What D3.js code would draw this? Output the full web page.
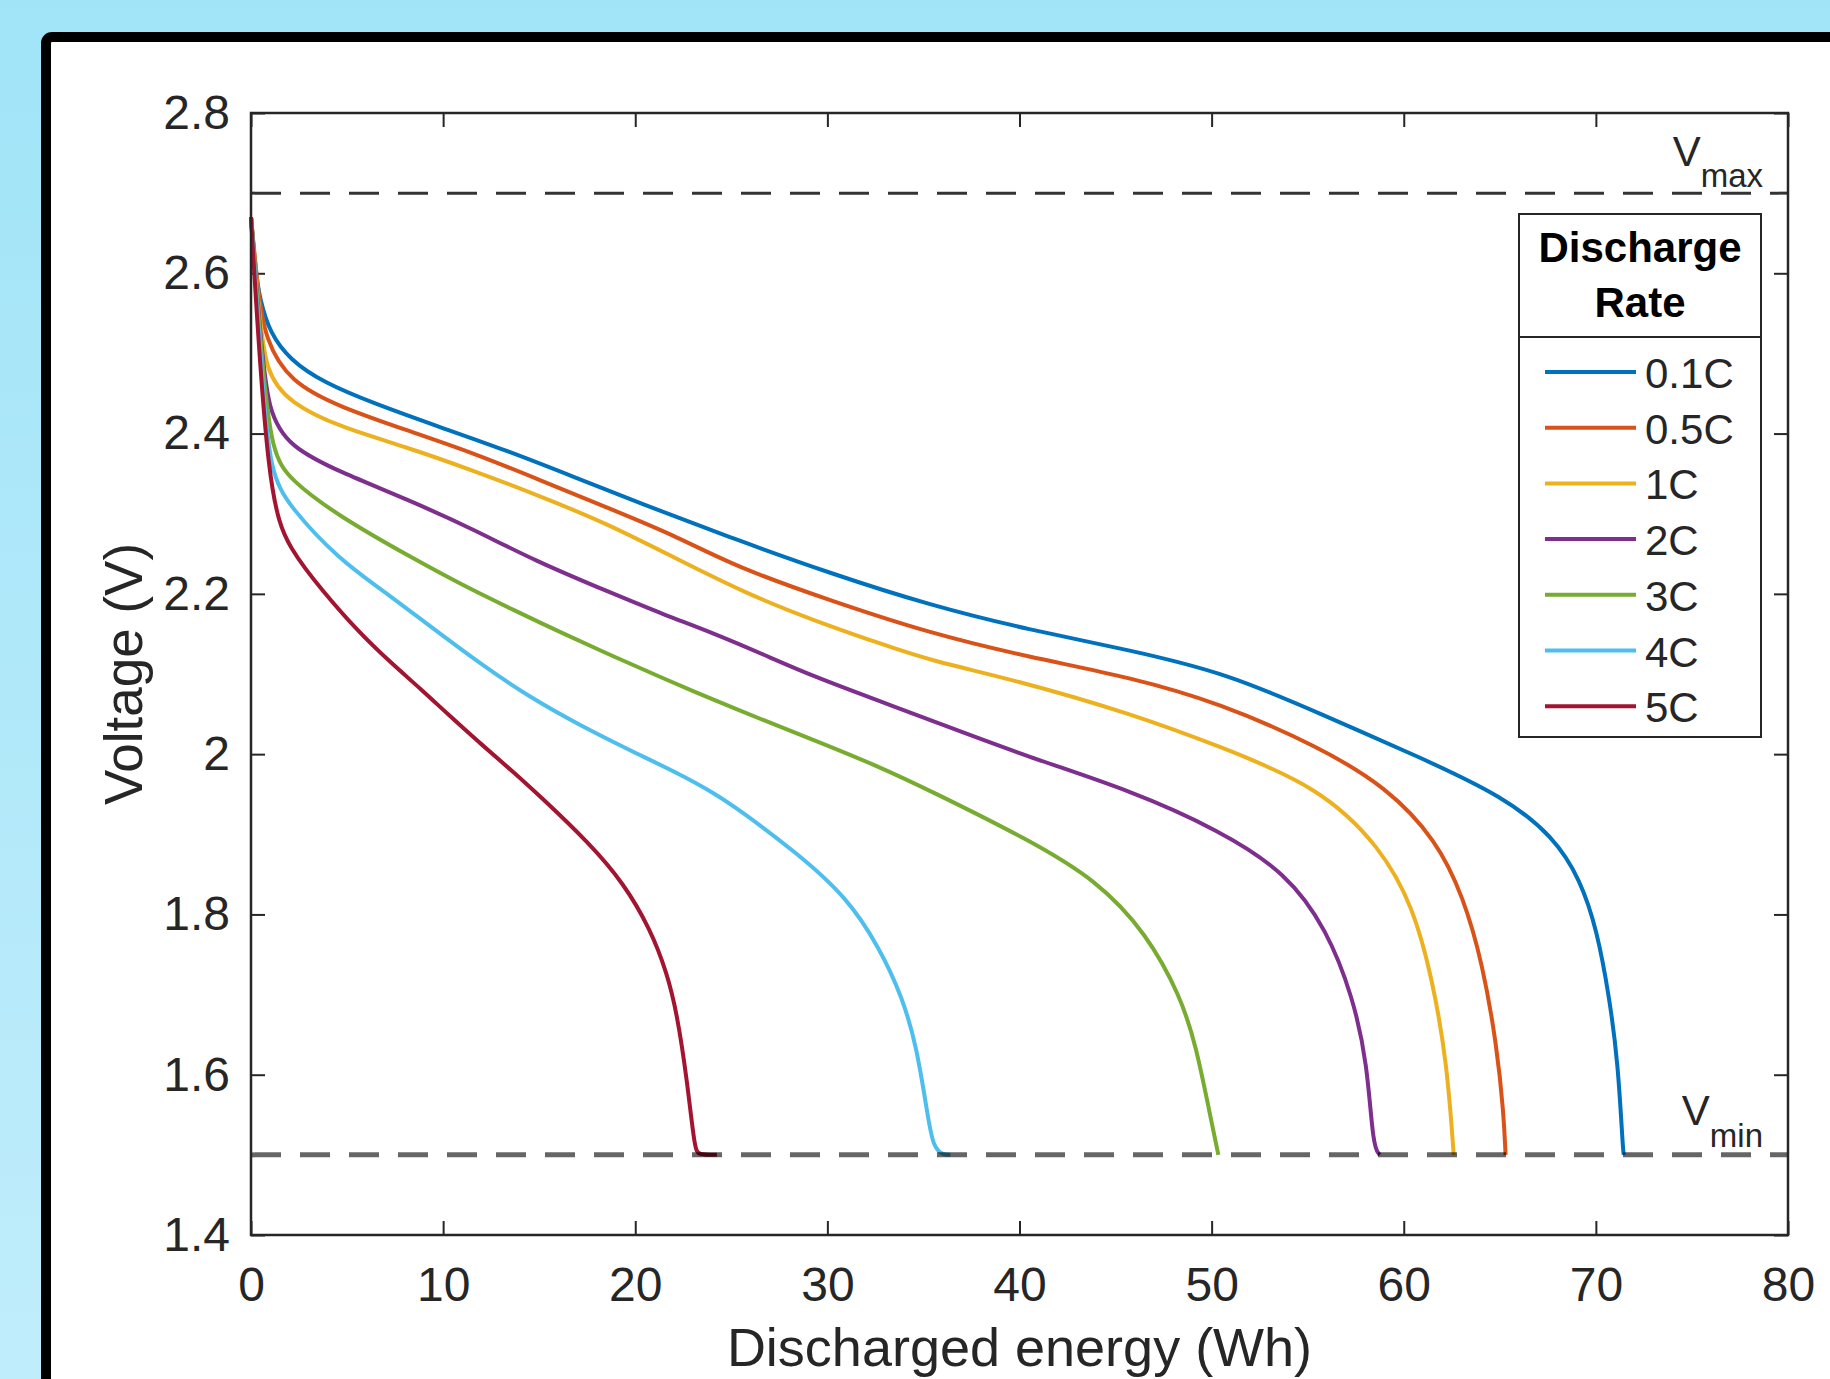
<!DOCTYPE html>
<html>
<head>
<meta charset="utf-8">
<script src="https://cdn.jsdelivr.net/npm/d3@7"></script>
<style>
  html, body { margin: 0; padding: 0; }
  body { width: 1830px; height: 1379px; overflow: hidden; }
  svg { display: block; font-family: "Liberation Sans", Arial, sans-serif; }
</style>
</head>
<body>
<svg id="chart" width="1830" height="1379"></svg>
<script>
const SVG = d3.select('#chart');
const WIDTH = 1830;
const HEIGHT = 1379;
const LEFT = 251;
const RIGHT = 1788;
const TOP = 113;
const BOTTOM = 1235;
const TICK = 14;
const TEXT_COLOR = '#262626';

// DATA  (discharged energy in Wh, voltage in V)
const rates = ['0.1C', '0.5C', '1C', '2C', '3C', '4C', '5C'];
const colors = ['#0072BD', '#D95319', '#EDB120', '#7E2F8E', '#77AC30', '#4DBEEE', '#A2142F'];

const curve01C = [[0, 2.67], [0.25, 2.6], [0.47, 2.567], [0.99, 2.525], [2.03, 2.492], [3.75, 2.464],
  [6.35, 2.438], [9.84, 2.408], [13.3, 2.379], [16.8, 2.346], [20.25, 2.313], [25.2, 2.268],
  [30.1, 2.226], [35.3, 2.186], [40.5, 2.155], [45.75, 2.13], [50.9, 2.1], [55.6, 2.051],
  [60.85, 1.996], [65.2, 1.947], [67.8, 1.897], [69.2, 1.843], [70.05, 1.781], [70.7, 1.697],
  [71.15, 1.615], [71.4, 1.51], [71.45, 1.5]];
const curve05C = [[0, 2.67], [0.35, 2.58], [0.73, 2.517], [2.03, 2.464], [4.63, 2.433], [8.12, 2.404],
  [11.55, 2.376], [15.04, 2.342], [18.5, 2.308], [21.97, 2.274], [25.2, 2.234], [30.1, 2.192],
  [35.3, 2.151], [40.5, 2.121], [45.75, 2.096], [50.4, 2.064], [55.6, 2.009], [59.1, 1.959],
  [61.7, 1.893], [63.1, 1.822], [64.1, 1.739], [64.85, 1.635], [65.2, 1.552], [65.3, 1.5]];
const curve1C = [[0, 2.67], [0.4, 2.56], [0.73, 2.476], [2.03, 2.438], [4.63, 2.408], [8.12, 2.383],
  [11.55, 2.354], [15.04, 2.322], [18.5, 2.288], [21.97, 2.246], [25.8, 2.2], [29.27, 2.167],
  [32.74, 2.138], [35.3, 2.117], [39.7, 2.093], [45.75, 2.051], [50.4, 2.01], [55.6, 1.959],
  [58.8, 1.884], [60.5, 1.809], [61.5, 1.718], [62.25, 1.615], [62.6, 1.5]];
const curve2C = [[0, 2.67], [0.5, 2.52], [0.88, 2.426], [2.03, 2.383], [4.63, 2.352], [8.12, 2.318],
  [11.55, 2.281], [14.7, 2.242], [18.86, 2.2], [21.5, 2.174], [24.06, 2.151], [26.7, 2.124],
  [29.27, 2.097], [32.74, 2.066], [35.3, 2.043], [40.5, 1.996], [45.75, 1.955], [50.4, 1.905],
  [53.9, 1.852], [56.0, 1.781], [57.35, 1.697], [58.1, 1.615], [58.4, 1.51], [58.75, 1.5]];
const curve3C = [[0, 2.67], [0.6, 2.48], [1.09, 2.376], [2.03, 2.342], [4.63, 2.296], [8.45, 2.244],
  [11.0, 2.211], [13.65, 2.18], [16.2, 2.151], [18.86, 2.122], [21.5, 2.094], [24.06, 2.068],
  [26.7, 2.042], [29.27, 2.018], [32.74, 1.984], [35.3, 1.955], [40.5, 1.893], [44.0, 1.843],
  [46.6, 1.777], [48.4, 1.697], [49.2, 1.635], [49.9, 1.552], [50.35, 1.5]];
const curve4C = [[0, 2.67], [0.6, 2.46], [0.99, 2.351], [2.03, 2.308], [4.63, 2.242], [6.71, 2.207],
  [9.3, 2.16], [11.92, 2.113], [14.5, 2.071], [17.12, 2.036], [19.7, 2.005], [22.33, 1.975],
  [24.06, 1.952], [25.45, 1.93], [28.4, 1.877], [31, 1.822], [32.7, 1.759], [33.9, 1.697],
  [34.65, 1.635], [35.2, 1.552], [35.5, 1.51], [36.0, 1.5], [36.4, 1.5]];
const curve5C = [[0, 2.67], [0.88, 2.317], [2.03, 2.255], [3.75, 2.203], [5.5, 2.155], [7.23, 2.115],
  [8.9, 2.08], [10.19, 2.051], [11.9, 2.014], [13.65, 1.978], [15.2, 1.944], [17.6, 1.889],
  [19.4, 1.839], [20.8, 1.781], [21.65, 1.727], [22.17, 1.677], [22.7, 1.593], [23.1, 1.506],
  [23.3, 1.5], [24.25, 1.5]];
const curves = [curve01C, curve05C, curve1C, curve2C, curve3C, curve4C, curve5C];

const xTicks = [0, 10, 20, 30, 40, 50, 60, 70, 80];
const yTicks = [1.4, 1.6, 1.8, 2, 2.2, 2.4, 2.6, 2.8];
const V_MAX = 2.7;
const V_MIN = 1.5;

// SCALES
const x = d3.scaleLinear().domain([0, 80]).range([LEFT, RIGHT]);
const y = d3.scaleLinear().domain([1.4, 2.8]).range([BOTTOM, TOP]);

// BACKGROUND AND FRAME
const defs = SVG.append('defs');
const grad = defs.append('linearGradient')
  .attr('id', 'bg')
  .attr('x1', 0).attr('y1', 0).attr('x2', 0).attr('y2', 1);
grad.append('stop').attr('offset', '0%').attr('stop-color', '#a1e4f8');
grad.append('stop').attr('offset', '100%').attr('stop-color', '#c0edfb');

SVG.append('rect')
  .attr('width', WIDTH)
  .attr('height', HEIGHT)
  .attr('fill', 'url(#bg)');

SVG.append('rect')
  .attr('x', 46)
  .attr('y', 37)
  .attr('width', 1900)
  .attr('height', 1500)
  .attr('rx', 6)
  .attr('fill', 'white')
  .attr('stroke', 'black')
  .attr('stroke-width', 10);

// AXES
function styleAxis(g) {
  g.select('.domain').remove();
  g.selectAll('line').attr('stroke', TEXT_COLOR).attr('stroke-width', 2);
  g.selectAll('text')
    .attr('fill', TEXT_COLOR)
    .attr('font-size', 48)
    .attr('font-family', '"Liberation Sans", Arial, sans-serif');
}

SVG.append('g')
  .attr('transform', `translate(0,${BOTTOM})`)
  .call(d3.axisBottom(x).tickValues(xTicks).tickSizeInner(-TICK).tickSizeOuter(0).tickPadding(32))
  .call(styleAxis);

SVG.append('g')
  .attr('transform', `translate(0,${TOP})`)
  .call(d3.axisTop(x).tickValues(xTicks).tickSizeInner(-TICK).tickSizeOuter(0).tickFormat(''))
  .call(styleAxis);

SVG.append('g')
  .attr('transform', `translate(${LEFT},0)`)
  .call(d3.axisLeft(y).tickValues(yTicks).tickSizeInner(-TICK).tickSizeOuter(0).tickPadding(21)
    .tickFormat(d => String(d)))
  .call(styleAxis);

SVG.append('g')
  .attr('transform', `translate(${RIGHT},0)`)
  .call(d3.axisRight(y).tickValues(yTicks).tickSizeInner(-TICK).tickSizeOuter(0).tickFormat(''))
  .call(styleAxis);

// CURVES
const line = d3.line()
  .x(d => x(d[0]))
  .y(d => y(d[1]))
  .curve(d3.curveBasis);

SVG.append('g')
  .selectAll('path')
  .data(curves)
  .join('path')
  .attr('d', line)
  .attr('fill', 'none')
  .attr('stroke', (d, i) => colors[i])
  .attr('stroke-width', 4)
  .attr('stroke-linejoin', 'round');

// LIMIT LINES
SVG.append('line')
  .attr('x1', x(0)).attr('x2', x(80))
  .attr('y1', y(V_MAX)).attr('y2', y(V_MAX))
  .attr('stroke', 'black')
  .attr('stroke-opacity', 0.8)
  .attr('stroke-width', 3)
  .attr('stroke-dasharray', '30,19');

SVG.append('line')
  .attr('x1', x(0)).attr('x2', x(80))
  .attr('y1', y(V_MIN)).attr('y2', y(V_MIN))
  .attr('stroke', 'black')
  .attr('stroke-opacity', 0.6)
  .attr('stroke-width', 5)
  .attr('stroke-dasharray', '30,19');

// BOX
SVG.append('rect')
  .attr('x', LEFT)
  .attr('y', TOP)
  .attr('width', RIGHT - LEFT)
  .attr('height', BOTTOM - TOP)
  .attr('fill', 'none')
  .attr('stroke', TEXT_COLOR)
  .attr('stroke-width', 2.5);

// V labels
function limitLabel(yPos, sub, dy) {
  const t = SVG.append('text')
    .attr('x', 1763)
    .attr('y', yPos)
    .attr('text-anchor', 'end')
    .attr('fill', TEXT_COLOR)
    .attr('font-size', 42);
  t.append('tspan').text('V');
  t.append('tspan').attr('dy', dy).attr('font-size', 33).text(sub);
}
limitLabel(166, 'max', 21);
limitLabel(1125, 'min', 22);

// AXIS LABELS
SVG.append('text')
  .attr('x', (LEFT + RIGHT) / 2)
  .attr('y', 1366)
  .attr('text-anchor', 'middle')
  .attr('fill', TEXT_COLOR)
  .attr('font-size', 54)
  .text('Discharged energy (Wh)');

SVG.append('text')
  .attr('transform', `translate(142,${(TOP + BOTTOM) / 2}) rotate(-90)`)
  .attr('text-anchor', 'middle')
  .attr('fill', TEXT_COLOR)
  .attr('font-size', 53)
  .text('Voltage (V)');

// LEGEND
const LEG_X = 1519;
const LEG_W = 242;
const LEG_TOP = 214;
const LEG_DIV = 337;
const LEG_BOTTOM = 737;
const ROW_START = 372;
const ROW_STEP = 55.7;

const legend = SVG.append('g');
legend.append('rect')
  .attr('x', LEG_X)
  .attr('y', LEG_TOP)
  .attr('width', LEG_W)
  .attr('height', LEG_BOTTOM - LEG_TOP)
  .attr('fill', 'white')
  .attr('stroke', TEXT_COLOR)
  .attr('stroke-width', 2);
legend.append('line')
  .attr('x1', LEG_X).attr('x2', LEG_X + LEG_W)
  .attr('y1', LEG_DIV).attr('y2', LEG_DIV)
  .attr('stroke', TEXT_COLOR)
  .attr('stroke-width', 2);
legend.selectAll('text.title')
  .data(['Discharge', 'Rate'])
  .join('text')
  .attr('class', 'title')
  .attr('x', LEG_X + LEG_W / 2)
  .attr('y', (d, i) => 262 + i * 55)
  .attr('text-anchor', 'middle')
  .attr('font-weight', 'bold')
  .attr('font-size', 42)
  .attr('fill', 'black')
  .text(d => d);

const rows = legend.selectAll('g.row')
  .data(rates)
  .join('g')
  .attr('class', 'row')
  .attr('transform', (d, i) => `translate(0,${ROW_START + i * ROW_STEP})`);
rows.append('line')
  .attr('x1', 1545).attr('x2', 1636)
  .attr('stroke', (d, i) => colors[i])
  .attr('stroke-width', 4);
rows.append('text')
  .attr('x', 1645)
  .attr('y', 16)
  .attr('font-size', 42)
  .attr('fill', TEXT_COLOR)
  .text(d => d);
</script>
</body>
</html>
